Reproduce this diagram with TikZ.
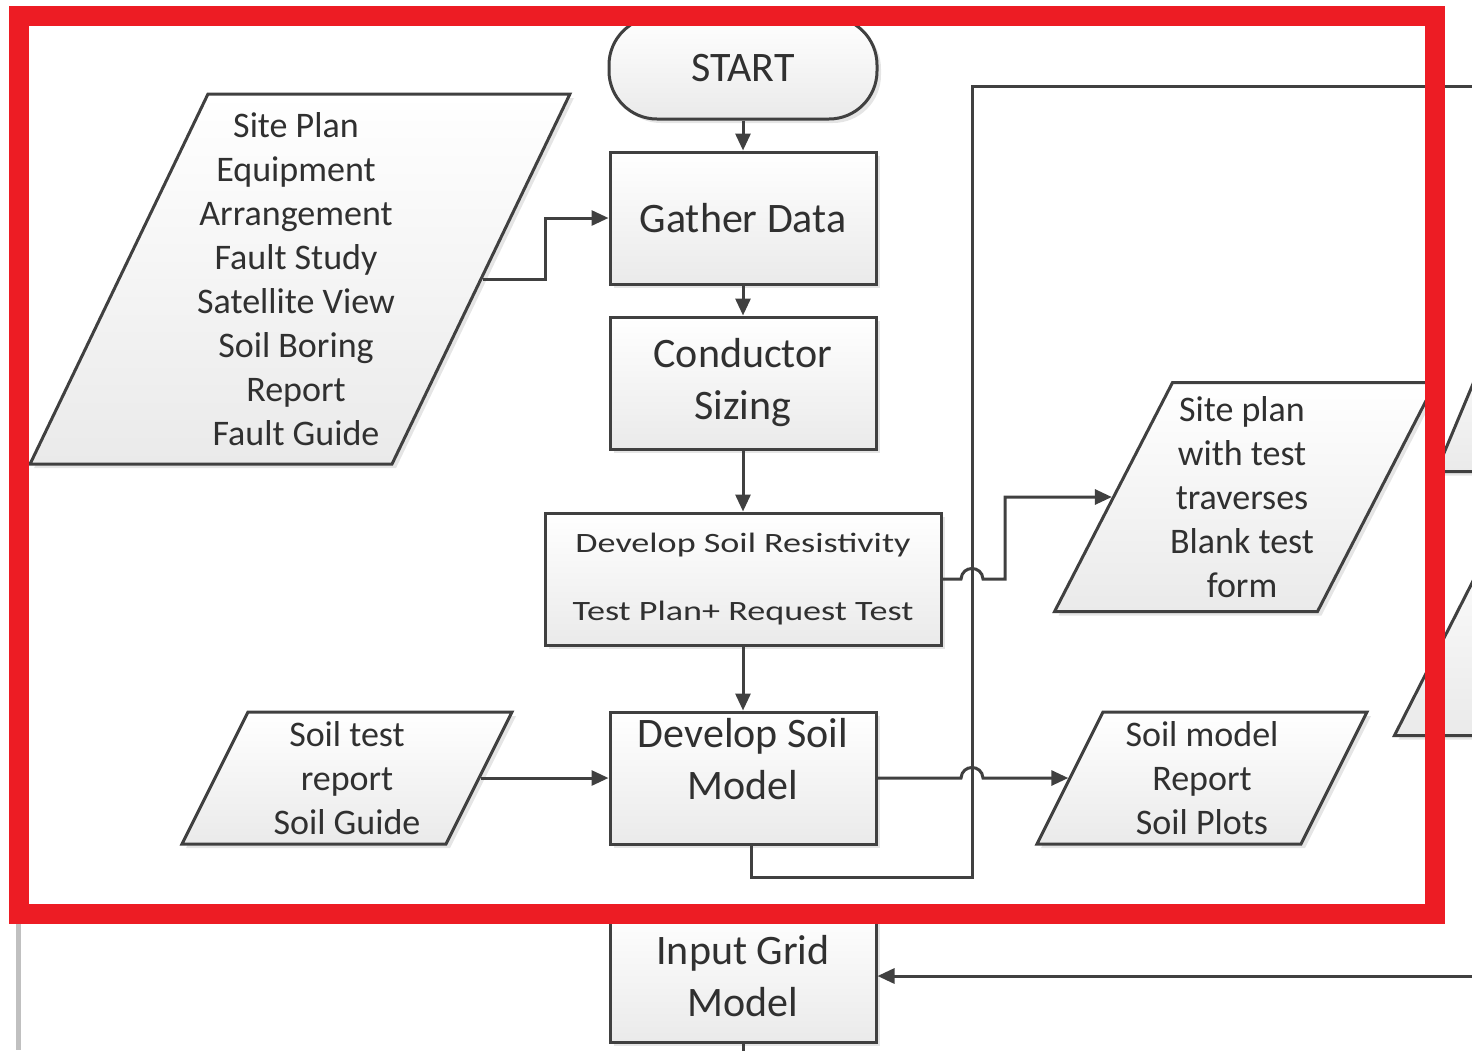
\documentclass[tikz,border=0pt]{standalone}
\usepackage{fontspec}
\setmainfont{Carlito}
\newfontfamily\widefont{Carlito}[FakeStretch=1.29]
\definecolor{FlowLine}{HTML}{404040}
\definecolor{FlowText}{HTML}{303030}
\definecolor{FlowFill}{HTML}{EAEAEA}
\definecolor{MarkRed}{HTML}{ED1C24}
\definecolor{PageEdge}{HTML}{C0C0C0}
\usetikzlibrary{arrows.meta,shapes.geometric,shadows}

\tikzset{
  procbox/.style={draw=FlowLine, line width=3pt, top color=white, bottom color=FlowFill,
    drop shadow={shadow xshift=4pt, shadow yshift=-4pt, fill=black!10, opacity=1},
    text=FlowText, align=center, inner sep=0pt, minimum width=266pt, minimum height=132pt,
    font=\fontsize{42}{52}\selectfont},
  iobox/.style={procbox, trapezium, trapezium left angle=#1, trapezium right angle=180-#1,
    trapezium stretches=true, minimum width=330pt, inner sep=2pt},
  iobox/.default=71.57,
  bigtext/.style={text=FlowText, align=center, font=\fontsize{42}{52}\selectfont},
  iotext/.style={text=FlowText, align=center, font=\fontsize{36}{44}\selectfont},
  flow/.style={draw=FlowLine, line width=3pt, -{Triangle[length=17pt,width=15pt]}},
  wire/.style={draw=FlowLine, line width=3pt},
}

\begin{document}
\begin{tikzpicture}[x=1pt,y=-1pt]
  \useasboundingbox (0,0) rectangle (1472,1050);
  \clip (0,0) rectangle (1472,1050);

  % main column
  \node[procbox, rounded corners=48pt, minimum width=268pt, minimum height=102pt] (start) at (743,68) {START};
  \node[procbox] (gather) at (743,218) {Gather Data};
  \node[procbox] (sizing) at (743,383) {Conductor\\Sizing};
  \node[procbox, minimum width=396pt, font=\widefont\fontsize{28}{34}\selectfont] (dsr) at (743,579)
    {Develop Soil Resistivity\\[34pt]Test Plan+ Request Test};
  \node[procbox, label={[bigtext, yshift=19pt]center:{Develop Soil\\Model}}] (model) at (743,778) {};
  \node[procbox] (grid) at (743,976) {Input Grid\\Model};

  % inputs and outputs
  \node[iobox=45.97, minimum width=540pt, minimum height=370pt,
    label={[iotext, xshift=-4pt]center:{Site Plan\\Equipment\\Arrangement\\Fault Study\\Satellite View\\Soil Boring\\Report\\Fault Guide}}]
    (data) at (300,279) {};
  \node[iobox=50.86, minimum width=381pt, minimum height=229pt,
    label={[iotext, xshift=-3pt]center:{Site plan\\with test\\traverses\\Blank test\\form}}] (site) at (1245,497) {};
  \node[iobox, minimum height=132pt, label={[iotext]center:{Soil model\\Report\\Soil Plots}}] (smodel) at (1202,778) {};
  \node[iobox, minimum height=132pt, label={[iotext]center:{Soil test\\report\\Soil Guide}}] (stest) at (347,778) {};
  \node[iobox=76.8, minimum width=420pt, minimum height=160pt, anchor=bottom left corner] (rightA) at (1434,473) {};
  \node[iobox=60.3, minimum width=420pt, minimum height=220pt, anchor=bottom left corner] (rightB) at (1392,737) {};

  \coordinate (loopend) at (1480,86);
  \coordinate (gridfeed) at (1480,976);

  % connectors
  \draw[flow] (start) -- (gather);
  \draw[flow] (gather) -- (sizing);
  \draw[flow] (sizing) -- (dsr);
  \draw[flow] (dsr) -- (model);
  \draw[flow] (data.east) -- (545,279) |- (gather.west);
  \draw[flow] (stest.east) -- (model.west);
  \draw[wire] ([xshift=8pt]model.south) -- ++(0,32) -| (972,86) -- (loopend);
  \draw[flow] (dsr.east) -- (961,579) .. controls (962,565) and (982,565) .. (983,579) -- (1005,579) |- (site.west);
  \draw[flow] (model.east) -- (961,778) .. controls (962,764) and (982,764) .. (983,778) -- (smodel.west);
  \draw[flow] (gridfeed) -- (grid.east);
  \draw[wire] (grid.south) -- ++(0,20);

  % page edge and highlight frame
  \draw[PageEdge, line width=5pt] (18.5,900) -- (18.5,1050);
  \draw[MarkRed, line width=20pt] (18.5,16) rectangle (1434.5,914);
\end{tikzpicture}
\end{document}
